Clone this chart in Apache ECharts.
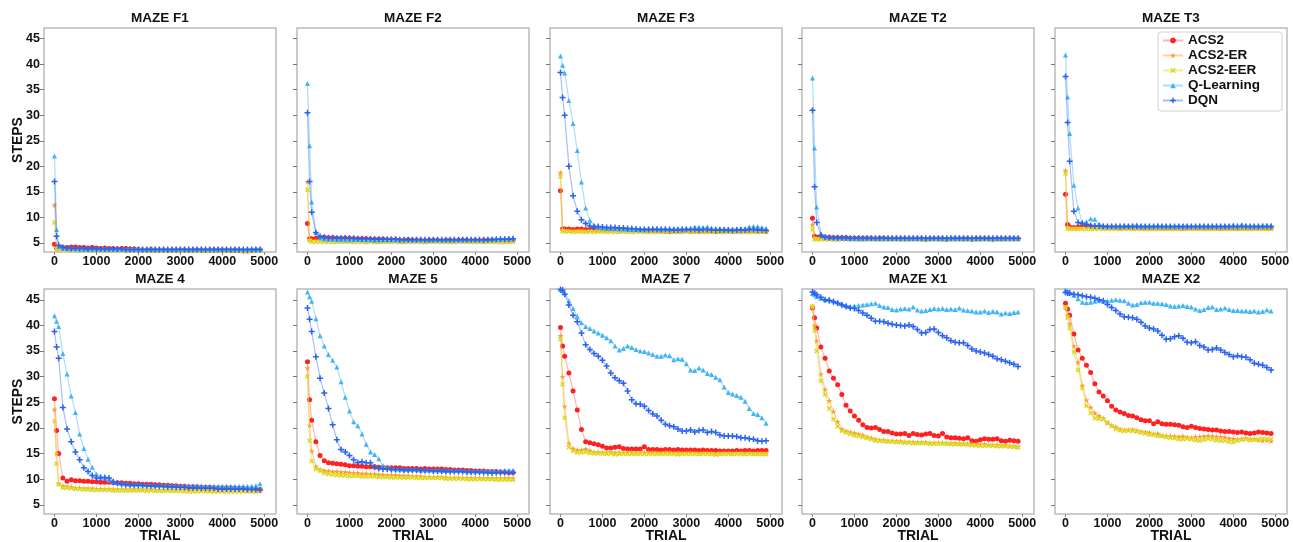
<!DOCTYPE html>
<html><head><meta charset="utf-8">
<script src="https://cdn.jsdelivr.net/npm/echarts@6/dist/echarts.min.js"></script>
<style>html,body{margin:0;padding:0;background:#fff}#c{width:1293px;height:542px}</style>
</head><body><div id="c"></div>
<script>
const TRIALS = [0,50,100,200,300,400,500,600,700,800,900,1000,1100,1200,1300,1400,1500,1600,1700,1800,1900,2000,2100,2200,2300,2400,2500,2600,2700,2800,2900,3000,3100,3200,3300,3400,3500,3600,3700,3800,3900,4000,4100,4200,4300,4400,4500,4600,4700,4800,4900];
const X_TICKS = [0,1000,2000,3000,4000,5000];
const Y_TICKS = [5,10,15,20,25,30,35,40,45];
const SERIES_NAMES = ['ACS2','ACS2-ER','ACS2-EER','Q-Learning','DQN'];
const PANEL_TITLES = ['MAZE F1','MAZE F2','MAZE F3','MAZE T2','MAZE T3','MAZE 4','MAZE 5','MAZE 7','MAZE X1','MAZE X2'];
const X_NAME = 'TRIAL';
const Y_NAME = 'STEPS';

const F1_ACS2 = [4.7,4.0, 4.0,4.1,4.1,4.2,4.2,4.1,4.1,4.0,4.1, 4.0,3.9,4.0,3.9,3.9,3.8,3.9,3.9,3.8,3.8, 3.7,3.6,3.6,3.7,3.6,3.6,3.6,3.5,3.6,3.6, 3.6,3.6,3.5,3.6,3.6,3.6,3.5,3.6,3.6,3.6, 3.6,3.6,3.5,3.6,3.5,3.4,3.4,3.5,3.6,3.6];
const F1_ER = [12.4,4.0, 3.8,3.7,3.7,3.6,3.7,3.6,3.6,3.6,3.6, 3.6,3.6,3.6,3.5,3.6,3.6,3.6,3.5,3.6,3.6, 3.5,3.6,3.5,3.5,3.6,3.5,3.5,3.6,3.5,3.5, 3.5,3.6,3.5,3.5,3.5,3.6,3.5,3.5,3.5,3.5, 3.5,3.5,3.6,3.5,3.5,3.5,3.5,3.5,3.5,3.5];
const F1_EER = [9.0,3.8, 3.6,3.6,3.6,3.6,3.5,3.6,3.5,3.6,3.5, 3.5,3.5,3.6,3.5,3.5,3.5,3.5,3.5,3.5,3.5, 3.5,3.5,3.5,3.4,3.5,3.5,3.5,3.5,3.5,3.5, 3.5,3.5,3.5,3.5,3.4,3.5,3.5,3.5,3.5,3.5, 3.5,3.5,3.5,3.5,3.5,3.4,3.5,3.5,3.5,3.5];
const F1_Q = [22.0,7.6, 4.3,4.0,3.9,3.9,3.9,3.8,3.8,3.8,3.8, 3.8,3.8,3.8,3.8,3.8,3.7,3.8,3.7,3.7,3.7, 3.7,3.7,3.7,3.7,3.7,3.7,3.7,3.7,3.7,3.7, 3.8,3.7,3.7,3.8,3.8,3.7,3.8,3.8,3.8,3.8, 3.7,3.7,3.7,3.8,3.8,3.7,3.8,3.7,3.8,3.8];
const F1_DQN = [17.0,6.3, 4.5,4.1,4.0,3.9,3.9,3.9,3.9,3.8,3.9, 3.8,3.8,3.8,3.8,3.8,3.8,3.8,3.7,3.7,3.7, 3.7,3.7,3.7,3.7,3.7,3.7,3.7,3.7,3.7,3.7, 3.7,3.7,3.7,3.7,3.7,3.7,3.7,3.7,3.7,3.7, 3.7,3.7,3.7,3.7,3.7,3.7,3.7,3.7,3.7,3.7];

const F2_ACS2 = [8.8,5.8, 5.8,5.9,6.0,6.1,6.0,6.0,5.9,5.9,5.9, 5.9,5.8,5.8,5.8,5.8,5.7,5.7,5.7,5.7,5.6, 5.6,5.6,5.5,5.5,5.6,5.5,5.5,5.5,5.4,5.5, 5.5,5.5,5.4,5.5,5.5,5.4,5.5,5.5,5.5,5.4, 5.5,5.4,5.5,5.5,5.5,5.4,5.5,5.5,5.4,5.5];
const F2_ER = [17.0,5.6, 5.4,5.4,5.4,5.3,5.3,5.3,5.3,5.3,5.3, 5.3,5.3,5.3,5.3,5.2,5.3,5.3,5.2,5.3,5.3, 5.3,5.3,5.3,5.2,5.3,5.3,5.3,5.3,5.2,5.3, 5.3,5.3,5.3,5.3,5.3,5.2,5.3,5.3,5.3,5.3, 5.3,5.3,5.2,5.3,5.3,5.3,5.3,5.2,5.3,5.3];
const F2_EER = [15.4,5.4, 5.2,5.2,5.2,5.2,5.2,5.1,5.2,5.2,5.2, 5.2,5.1,5.2,5.2,5.2,5.2,5.1,5.2,5.2,5.2, 5.2,5.2,5.1,5.2,5.2,5.2,5.2,5.1,5.2,5.2, 5.2,5.2,5.2,5.2,5.1,5.2,5.2,5.2,5.2,5.2, 5.1,5.2,5.2,5.2,5.2,5.2,5.1,5.2,5.2,5.2];
const F2_Q = [36.2,24.0, 13.0,7.0,6.0,5.8,5.7,5.7,5.6,5.7,5.6, 5.6,5.6,5.7,5.6,5.6,5.6,5.5,5.6,5.6,5.6, 5.6,5.6,5.6,5.7,5.6,5.6,5.6,5.7,5.6,5.6, 5.6,5.7,5.6,5.6,5.6,5.7,5.6,5.6,5.7,5.7, 5.7,5.7,5.6,5.7,5.8,5.7,5.8,5.8,5.9,5.9];
const F2_DQN = [30.5,17.0, 11.0,7.0,6.3,6.1,6.0,6.0,5.9,5.9,6.0, 5.9,5.9,5.8,5.8,5.8,5.8,5.7,5.7,5.7,5.7, 5.7,5.7,5.6,5.6,5.6,5.6,5.6,5.6,5.6,5.6, 5.6,5.6,5.6,5.6,5.6,5.6,5.6,5.6,5.6,5.6, 5.6,5.6,5.6,5.6,5.6,5.7,5.7,5.7,5.7,5.8];

const F3_ACS2 = [15.2,7.7, 7.7,7.7,7.6,7.7,7.7,7.6,7.6,7.6,7.5, 7.5,7.5,7.6,7.5,7.5,7.4,7.5,7.4,7.4,7.4, 7.4,7.3,7.4,7.4,7.3,7.3,7.2,7.3,7.3,7.3, 7.4,7.3,7.3,7.3,7.3,7.3,7.3,7.2,7.3,7.3, 7.3,7.3,7.3,7.3,7.3,7.3,7.3,7.3,7.3,7.3];
const F3_ER = [18.8,7.5, 7.4,7.4,7.4,7.3,7.3,7.3,7.3,7.3,7.3, 7.3,7.3,7.3,7.3,7.2,7.3,7.3,7.2,7.3,7.3, 7.2,7.3,7.3,7.2,7.3,7.2,7.3,7.3,7.2,7.3, 7.3,7.2,7.3,7.2,7.3,7.3,7.2,7.3,7.2,7.2, 7.3,7.2,7.3,7.2,7.3,7.2,7.3,7.2,7.3,7.2];
const F3_EER = [18.0,7.3, 7.2,7.2,7.1,7.2,7.2,7.1,7.2,7.1,7.2, 7.2,7.1,7.2,7.1,7.2,7.2,7.1,7.2,7.1,7.2, 7.1,7.2,7.1,7.2,7.1,7.2,7.2,7.1,7.2,7.1, 7.2,7.1,7.2,7.2,7.1,7.2,7.1,7.2,7.1,7.2, 7.1,7.2,7.1,7.2,7.2,7.1,7.2,7.1,7.2,7.1];
const F3_Q = [41.6,39.8, 38.3,32.9,28.4,23.1,16.9,11.8,9.4,8.5,8.1, 7.9,7.9,7.8,7.8,7.7,7.7,7.6,7.6,7.6,7.6, 7.7,7.8,7.8,7.8,7.7,7.8,7.7,7.8,7.8,7.7, 7.8,7.8,8.1,8.1,8.0,8.1,7.9,7.8,7.8,7.7, 7.7,7.7,7.7,7.8,7.7,8.1,8.2,8.2,8.0,7.8];
const F3_DQN = [38.4,33.5, 30.0,20.0,14.2,11.2,9.5,8.8,8.3,8.1,8.2, 8.1,8.0,8.0,8.0,7.9,7.9,7.8,7.8,7.7,7.6, 7.6,7.6,7.6,7.6,7.6,7.6,7.6,7.5,7.5,7.6, 7.6,7.6,7.6,7.5,7.6,7.6,7.5,7.5,7.5,7.5, 7.5,7.4,7.5,7.5,7.5,7.6,7.6,7.5,7.5,7.4];

const T2_ACS2 = [9.8,6.3, 6.1,6.0,6.1,6.1,6.0,6.0,6.0,6.0,5.9, 5.9,5.9,5.9,5.9,5.9,5.8,5.9,5.9,5.8,5.8, 5.8,5.8,5.8,5.8,5.8,5.8,5.8,5.7,5.8,5.8, 5.8,5.8,5.7,5.8,5.8,5.8,5.8,5.8,5.7,5.8, 5.8,5.8,5.8,5.7,5.8,5.8,5.8,5.8,5.8,5.8];
const T2_ER = [8.6,5.9, 5.8,5.8,5.8,5.8,5.8,5.7,5.8,5.8,5.8, 5.8,5.8,5.7,5.8,5.8,5.8,5.8,5.7,5.8,5.8, 5.8,5.7,5.8,5.8,5.8,5.8,5.7,5.8,5.8,5.8, 5.7,5.8,5.8,5.8,5.7,5.8,5.8,5.8,5.8,5.7, 5.8,5.8,5.7,5.8,5.8,5.8,5.8,5.7,5.8,5.8];
const T2_EER = [7.6,5.7, 5.7,5.7,5.7,5.7,5.6,5.7,5.7,5.7,5.7, 5.7,5.6,5.7,5.7,5.7,5.7,5.6,5.7,5.7,5.7, 5.7,5.7,5.6,5.7,5.7,5.7,5.7,5.6,5.7,5.7, 5.7,5.6,5.7,5.7,5.7,5.7,5.6,5.7,5.7,5.7, 5.6,5.7,5.7,5.7,5.7,5.6,5.7,5.7,5.7,5.7];
const T2_Q = [37.3,23.6, 12.0,6.8,6.3,6.1,6.0,6.0,6.0,5.9,5.9, 5.9,5.9,5.9,6.0,5.9,5.9,5.9,5.9,5.9,5.9, 5.9,5.9,6.0,5.9,5.9,5.9,5.9,5.9,5.9,6.0, 5.9,5.9,5.9,5.9,6.0,5.9,5.9,5.9,5.9,5.9, 5.9,6.0,5.9,5.9,5.9,5.9,5.9,6.0,5.9,5.9];
const T2_DQN = [31.0,16.0, 9.0,6.5,6.1,6.0,6.0,6.0,6.0,6.0,5.9, 5.9,5.9,5.9,5.9,5.9,5.9,5.9,5.9,5.9,5.9, 5.9,5.9,5.9,5.9,5.9,5.9,5.9,5.9,5.9,5.9, 5.9,5.9,5.9,5.9,5.9,5.9,5.9,5.9,5.9,5.9, 5.9,5.9,5.9,5.9,5.9,5.9,5.9,5.9,5.9,5.9];

const T3_ACS2 = [14.5,8.6, 8.1,8.0,8.1,8.3,8.4,8.2,8.1,8.1,8.0, 8.0,8.0,8.0,7.9,8.0,8.0,7.9,8.0,7.9,7.9, 7.9,7.9,7.9,7.9,7.9,7.9,7.9,7.9,7.8,7.9, 7.9,7.9,7.9,7.9,7.9,7.9,7.9,7.8,7.9,7.9, 7.9,7.8,7.9,7.9,7.9,7.9,7.9,7.9,7.9,7.9];
const T3_ER = [19.2,8.0, 7.9,7.9,7.9,7.9,7.9,7.9,7.9,7.9,7.9, 7.9,7.9,7.9,7.8,7.9,7.9,7.9,7.9,7.9,7.9, 7.9,7.8,7.9,7.9,7.9,7.9,7.9,7.8,7.9,7.9, 7.9,7.9,7.9,7.8,7.9,7.9,7.9,7.9,7.9,7.9, 7.9,7.9,7.9,7.9,7.8,7.9,7.9,7.9,7.9,7.9];
const T3_EER = [18.6,7.8, 7.7,7.7,7.7,7.7,7.7,7.7,7.7,7.7,7.7, 7.7,7.7,7.7,7.7,7.7,7.7,7.7,7.7,7.7,7.7, 7.7,7.7,7.7,7.7,7.7,7.7,7.7,7.7,7.7,7.7, 7.7,7.7,7.7,7.7,7.7,7.7,7.7,7.7,7.7,7.7, 7.7,7.7,7.7,7.7,7.7,7.7,7.7,7.7,7.7,7.7];
const T3_Q = [41.8,33.6, 26.4,16.3,11.8,9.0,9.1,9.7,9.6,8.7,8.4, 8.3,8.3,8.3,8.3,8.4,8.3,8.4,8.5,8.3,8.3, 8.3,8.3,8.4,8.3,8.3,8.3,8.3,8.3,8.3,8.3, 8.3,8.3,8.3,8.3,8.3,8.3,8.3,8.3,8.3,8.3, 8.5,8.3,8.6,8.4,8.3,8.3,8.3,8.4,8.4,8.4];
const T3_DQN = [37.6,28.6, 21.0,11.2,9.0,8.8,8.6,8.4,8.3,8.3,8.2, 8.2,8.2,8.2,8.2,8.2,8.2,8.2,8.2,8.2,8.2, 8.2,8.2,8.2,8.2,8.2,8.2,8.2,8.2,8.2,8.2, 8.2,8.2,8.2,8.2,8.2,8.2,8.2,8.2,8.2,8.2, 8.2,8.2,8.2,8.2,8.2,8.2,8.2,8.2,8.2,8.2];

const M4_ACS2 = [25.7,19.5, 15.0,10.2,9.6,9.9,9.7,9.7,9.6,9.6,9.5, 9.5,9.4,9.4,9.4,9.3,9.3,9.3,9.2,9.2,9.1, 9.1,9.0,9.0,9.0,8.9,8.9,8.8,8.8,8.7,8.7, 8.6,8.6,8.5,8.5,8.5,8.4,8.4,8.4,8.3,8.3, 8.3,8.3,8.3,8.2,8.2,8.2,8.1,8.1,8.0,8.0];
const M4_ER = [23.6,15.0, 9.1,8.7,8.6,8.5,8.3,8.3,8.2,8.2,8.2, 8.1,8.1,8.1,8.1,8.0,8.0,8.0,8.0,8.0,8.0, 8.0,8.0,7.9,8.0,7.9,7.9,7.9,7.9,7.9,7.9, 7.9,7.9,7.9,7.8,7.9,7.9,7.8,7.9,7.8,7.8, 7.8,7.8,7.8,7.8,7.8,7.8,7.8,7.8,7.8,7.8];
const M4_EER = [21.3,13.0, 9.0,8.3,8.3,8.2,8.1,8.1,8.0,8.0,7.9, 7.9,7.9,7.9,7.9,7.8,7.8,7.8,7.8,7.8,7.8, 7.8,7.8,7.7,7.8,7.7,7.7,7.7,7.8,7.7,7.7, 7.7,7.6,7.6,7.6,7.6,7.7,7.6,7.6,7.6,7.6, 7.6,7.6,7.6,7.6,7.6,7.6,7.6,7.6,7.6,7.7];
const M4_Q = [41.9,40.8, 39.8,34.5,30.5,26.2,23.0,18.8,16.0,13.9,12.3, 11.0,10.4,10.2,9.9,9.6,9.3,9.2,9.1,9.0,9.0, 9.0,8.9,8.9,8.9,8.8,8.8,8.8,8.8,8.7,8.7, 8.7,8.7,8.7,8.7,8.7,8.7,8.6,8.6,8.6,8.6, 8.6,8.6,8.6,8.6,8.6,8.6,8.6,8.6,8.7,9.1];
const M4_DQN = [38.8,35.8, 33.6,24.0,19.8,17.3,15.3,13.8,12.2,11.5,10.7, 10.2,10.3,10.3,10.2,9.5,9.2,9.0,8.9,8.9,8.8, 8.8,8.8,8.7,8.7,8.7,8.6,8.6,8.5,8.5,8.4, 8.4,8.4,8.3,8.3,8.3,8.2,8.2,8.2,8.2,8.1, 8.1,8.1,8.1,8.1,8.1,8.1,8.0,8.0,8.0,7.9];

const M5_ACS2 = [32.9,25.5, 21.5,17.3,14.6,13.6,13.2,13.1,13.0,12.9,12.8, 12.6,12.6,12.5,12.5,12.4,12.4,12.4,12.3,12.3,12.2, 12.2,12.2,12.2,12.1,12.1,12.1,12.1,12.0,12.1,12.0, 12.0,12.0,12.0,11.9,11.9,11.8,11.8,11.8,11.7,11.7, 11.6,11.6,11.6,11.5,11.5,11.5,11.4,11.4,11.3,11.3];
const M5_ER = [31.7,20.5, 15.5,12.5,11.9,11.7,11.6,11.5,11.5,11.4,11.4, 11.3,11.2,11.2,11.1,11.1,11.0,11.0,10.9,10.9,10.8, 10.8,10.8,10.7,10.7,10.7,10.6,10.6,10.6,10.5,10.5, 10.4,10.4,10.4,10.4,10.3,10.3,10.3,10.3,10.3,10.3, 10.3,10.3,10.2,10.2,10.2,10.2,10.2,10.2,10.2,10.2];
const M5_EER = [30.1,17.5, 13.5,12.0,11.6,11.2,11.0,10.9,10.8,10.7,10.7, 10.6,10.6,10.6,10.5,10.5,10.5,10.5,10.4,10.4,10.4, 10.3,10.3,10.3,10.3,10.3,10.3,10.2,10.2,10.2,10.2, 10.2,10.2,10.2,10.1,10.1,10.1,10.1,10.1,10.0,10.0, 10.0,10.0,10.0,10.0,10.0,9.9,9.9,9.9,9.9,9.9];
const M5_Q = [46.5,45.6, 44.7,41.3,38.0,36.0,34.3,33.2,31.9,29.0,26.0, 23.3,21.2,20.4,18.8,16.8,15.3,14.8,14.0,12.6,12.3, 12.1,12.0,12.0,11.9,11.9,11.9,11.9,11.8,11.8,11.8, 11.8,11.8,11.7,11.7,11.7,11.7,11.7,11.7,11.6,11.6, 11.6,11.6,11.6,11.6,11.6,11.6,11.6,11.7,11.7,11.7];
const M5_DQN = [43.4,41.2, 38.8,33.9,29.7,26.8,23.8,20.6,17.7,15.8,15.3, 14.6,13.8,13.2,13.4,13.2,13.2,12.3,12.1,12.0,12.0, 11.9,11.9,11.9,11.8,11.8,11.8,11.8,11.7,11.7,11.7, 11.6,11.6,11.6,11.5,11.5,11.5,11.5,11.5,11.4,11.4, 11.4,11.4,11.3,11.3,11.2,11.3,11.3,11.3,11.3,11.3];

const M7_ACS2 = [39.6,36.0, 34.0,30.7,27.2,23.5,19.7,17.3,17.1,16.9,16.7, 16.4,16.1,16.1,16.2,16.3,16.0,15.9,15.9,15.9,15.9, 16.3,15.8,15.8,15.8,15.7,15.8,15.8,15.7,15.8,15.7, 15.7,15.7,15.7,15.6,15.7,15.6,15.6,15.6,15.5,15.5, 15.5,15.5,15.6,15.5,15.6,15.6,15.5,15.6,15.6,15.6];
const M7_ER = [38.0,30.0, 24.2,17.0,16.0,15.7,15.7,15.9,15.6,15.3,15.3, 15.2,15.2,15.3,15.2,15.2,15.2,15.2,15.2,15.1,15.2, 15.2,15.1,15.2,15.1,15.1,15.2,15.1,15.1,15.1,15.1, 15.1,15.1,15.1,15.0,15.1,15.1,15.0,14.9,15.0,15.1, 15.1,15.0,15.1,15.1,15.0,15.1,15.0,15.0,15.0,15.0];
const M7_EER = [37.3,28.5, 22.0,16.2,15.5,15.2,15.2,15.3,15.1,15.0,15.0, 15.0,14.9,15.0,14.8,14.9,14.9,14.9,14.9,14.9,14.9, 14.9,14.9,14.9,14.9,14.9,14.9,14.9,14.9,14.8,14.9, 14.9,14.9,14.9,14.9,14.9,14.9,14.9,14.8,14.9,14.9, 14.9,14.9,14.9,14.9,14.9,14.9,14.9,14.9,14.9,14.9];
const M7_Q = [47.0,46.8, 46.3,44.8,43.3,41.8,40.5,39.8,39.4,38.9,38.5, 38.1,37.6,37.0,36.0,35.2,35.5,36.0,35.7,35.3,35.0, 34.9,34.6,34.3,34.0,34.0,34.2,34.1,33.3,33.5,33.4, 32.5,31.3,31.2,31.7,31.3,30.6,30.4,29.9,29.4,28.0, 26.9,26.6,26.3,26.0,25.2,23.8,22.8,22.6,22.0,20.9];
const M7_DQN = [47.0,46.9, 46.1,44.0,42.0,40.7,38.5,36.2,35.3,34.5,34.0, 33.2,32.1,30.7,29.8,29.2,28.7,27.2,25.5,24.7,24.6, 24.2,23.4,22.7,22.3,21.5,20.7,20.4,20.2,19.8,19.4, 19.4,19.6,19.2,19.5,19.6,19.1,19.3,19.1,18.6,18.4, 18.4,18.4,18.3,18.1,18.1,17.9,17.8,17.5,17.4,17.5];

const X1_ACS2 = [43.4,41.5, 39.5,35.8,33.6,31.1,29.7,28.4,26.5,24.4,23.3, 22.3,21.5,20.6,20.1,20.0,20.1,19.7,19.3,19.3,19.0, 18.8,18.8,18.9,18.5,18.9,18.7,18.6,18.8,18.9,18.5, 18.4,18.9,18.2,18.1,18.1,18.0,17.9,18.1,17.5,17.4, 17.7,17.9,17.8,17.8,17.9,17.5,17.4,17.6,17.5,17.4];
const X1_ER = [43.7,40.0, 37.0,30.5,27.5,25.3,23.2,21.2,19.8,19.4,19.2, 19.0,18.8,18.6,18.3,18.1,17.8,17.6,17.6,17.5,17.5, 17.4,17.4,17.3,17.3,17.3,17.2,17.2,17.2,17.1,17.1, 17.1,17.1,17.0,17.0,17.0,16.9,16.9,16.9,16.9,16.8, 16.8,16.8,16.7,16.7,16.7,16.6,16.6,16.5,16.4,16.3];
const X1_EER = [43.7,39.0, 35.0,29.2,26.5,23.8,21.7,20.3,19.4,19.1,18.8, 18.5,18.4,18.2,18.0,17.8,17.5,17.5,17.4,17.3,17.3, 17.2,17.2,17.1,17.1,17.0,17.0,17.0,17.0,16.9,16.9, 16.9,16.9,16.9,16.8,16.8,16.8,16.8,16.7,16.6,16.6, 16.5,16.5,16.5,16.5,16.4,16.4,16.4,16.3,16.3,16.2];
const X1_Q = [46.2,46.0, 45.6,45.3,45.0,45.2,44.8,44.5,44.2,43.9,43.7, 43.8,43.9,44.0,44.1,44.2,44.3,43.9,43.6,43.5,43.1, 43.0,43.2,43.3,43.2,43.6,43.0,42.8,42.9,43.1,43.3, 43.2,43.3,43.1,43.2,43.1,43.4,43.0,42.9,42.8,42.6, 42.6,42.8,42.5,42.7,42.6,42.2,42.4,42.3,42.5,42.6];
const X1_DQN = [46.5,46.3, 46.0,45.5,45.0,44.8,44.6,44.3,44.0,43.7,43.4, 43.3,42.9,42.4,42.0,41.4,40.8,40.8,40.7,40.4,40.2, 40.1,40.0,39.9,40.1,39.8,39.2,38.5,38.6,39.2,39.3, 38.6,38.0,37.6,37.0,36.7,36.6,36.6,36.1,35.4,35.0, 34.8,34.6,34.3,34.0,33.5,33.3,33.0,32.7,32.4,32.0];

const X2_ACS2 = [44.3,43.2, 42.0,38.3,35.2,33.6,32.2,30.8,28.6,27.0,26.2, 25.3,24.2,23.5,23.1,22.8,22.4,22.3,22.0,21.6,21.4, 21.4,20.8,21.2,20.8,20.7,20.7,20.6,20.5,20.2,20.1, 20.3,20.1,19.9,19.8,19.7,19.6,19.6,19.4,19.3,19.3, 19.2,19.1,19.2,19.0,18.9,19.0,19.2,19.1,19.0,18.9];
const X2_ER = [43.5,42.0, 40.3,36.0,32.8,28.3,25.4,24.0,22.9,22.4,21.9, 21.0,20.5,20.2,19.8,19.6,19.6,19.7,19.5,19.3,19.2, 19.1,18.8,18.9,18.5,18.5,18.4,18.4,18.3,18.4,18.2, 18.1,18.3,18.3,18.4,18.5,18.4,18.3,18.3,18.2,18.0, 17.9,17.8,17.9,18.0,17.8,17.8,17.6,17.5,17.6,17.4];
const X2_EER = [43.5,41.5, 39.5,34.8,31.3,27.8,24.3,22.9,21.9,21.8,21.7, 21.0,20.3,19.8,19.5,19.4,19.5,19.4,19.3,19.1,18.9, 18.7,18.6,18.4,18.4,18.2,18.1,18.0,17.8,17.8,17.9, 17.8,17.6,17.5,17.7,17.9,17.8,17.6,17.5,17.5,17.3, 17.2,17.5,17.7,17.8,17.6,17.7,17.8,17.9,17.8,17.8];
const X2_Q = [46.9,46.6, 46.3,45.9,45.2,44.5,44.4,44.5,44.7,44.9,44.7, 44.8,44.9,45.0,44.9,44.8,44.3,44.0,44.1,44.4,44.5, 44.5,44.3,44.3,44.2,44.1,43.8,43.7,43.8,43.9,43.7, 43.6,43.2,42.9,43.1,43.5,43.6,43.1,43.2,43.4,43.1, 42.9,42.9,42.8,42.8,42.7,42.8,42.6,42.7,43.0,42.8];
const X2_DQN = [46.4,46.3, 46.3,46.1,46.0,45.8,45.6,45.5,45.3,45.0,44.8, 44.1,43.5,42.9,42.2,41.7,41.6,41.5,41.2,40.6,39.9, 39.5,39.3,38.9,38.1,37.3,37.4,37.8,38.0,37.5,36.7, 36.6,36.8,36.1,35.8,35.2,35.3,35.6,35.2,34.7,34.3, 33.9,34.1,33.9,33.8,33.3,32.6,32.4,32.2,31.8,31.3];

const PANEL_DATA = [
  [F1_ACS2,F1_ER,F1_EER,F1_Q,F1_DQN],
  [F2_ACS2,F2_ER,F2_EER,F2_Q,F2_DQN],
  [F3_ACS2,F3_ER,F3_EER,F3_Q,F3_DQN],
  [T2_ACS2,T2_ER,T2_EER,T2_Q,T2_DQN],
  [T3_ACS2,T3_ER,T3_EER,T3_Q,T3_DQN],
  [M4_ACS2,M4_ER,M4_EER,M4_Q,M4_DQN],
  [M5_ACS2,M5_ER,M5_EER,M5_Q,M5_DQN],
  [M7_ACS2,M7_ER,M7_EER,M7_Q,M7_DQN],
  [X1_ACS2,X1_ER,X1_EER,X1_Q,X1_DQN],
  [X2_ACS2,X2_ER,X2_EER,X2_Q,X2_DQN]
];

// ---- styling / layout ----
const FONT = '"Liberation Sans", Arial, sans-serif';
const COL_LEFT = [44, 297, 550, 802, 1055];
const ROW_TOP = [28, 289];
const ROW_H = [224, 225];
const W = 232;
const MARK_COLORS = ['#ff2020', '#ff9a30', '#dcd81c', '#42b4f5', '#2b63f0'];
const LINE_COLORS = ['rgba(255,90,90,0.45)', 'rgba(255,160,70,0.5)', 'rgba(225,220,40,0.5)', 'rgba(90,190,250,0.5)', 'rgba(60,110,240,0.45)'];
const SYMBOLS = [
  'circle',
  'path://M50,0L61,35H98L68,57L79,91L50,70L21,91L32,57L2,35H39Z',
  'path://M0,2L2,0L5,3L8,0L10,2L7,5L10,8L8,10L5,7L2,10L0,8L3,5Z',
  'triangle',
  'path://M3,0H5V3H8V5H5V8H3V5H0V3H3Z'
];
const SYM_SIZE = [5, 6, 5, 5, 6];

const grids = [], xAxes = [], yAxes = [], series = [], graphics = [];
PANEL_DATA.forEach((panel, p) => {
  const row = Math.floor(p / 5), col = p % 5;
  const left = COL_LEFT[col], top = ROW_TOP[row], h = ROW_H[row];
  grids.push({left: left, top: top, width: W, height: h, show: true, borderColor: '#bcbcbc', borderWidth: 1.5, backgroundColor: '#fff'});
  xAxes.push({
    type: 'value', gridIndex: p, min: -250, max: 5280,
    axisLine: {show: false, onZero: false}, splitLine: {show: false},
    axisTick: {show: true, customValues: X_TICKS, length: 3, lineStyle: {color: '#888'}},
    axisLabel: {show: true, customValues: X_TICKS, formatter: v => String(v), margin: 3, fontSize: 12.5, fontWeight: 'bold', color: '#111', fontFamily: FONT}
  });
  yAxes.push({
    type: 'value', gridIndex: p, min: 3.2, max: 47.1,
    axisLine: {show: false, onZero: false}, splitLine: {show: false},
    axisTick: {show: true, customValues: Y_TICKS, length: 4, lineStyle: {color: '#777'}},
    axisLabel: {show: col === 0, customValues: Y_TICKS, formatter: v => String(v), margin: 4, fontSize: 12.5, fontWeight: 'bold', color: '#111', fontFamily: FONT}
  });
  graphics.push({
    type: 'text', x: left + W / 2, y: top - 9.5,
    style: {text: PANEL_TITLES[p], textAlign: 'center', textVerticalAlign: 'middle', font: 'bold 13.5px ' + FONT, fill: '#111'}
  });
  if (row === 1) {
    graphics.push({
      type: 'text', x: left + W / 2, y: top + h + 22,
      style: {text: X_NAME, textAlign: 'center', textVerticalAlign: 'middle', font: 'bold 14px ' + FONT, fill: '#111'}
    });
  }
  if (col === 0) {
    graphics.push({
      type: 'text', x: 18, y: top + h / 2, rotation: Math.PI / 2,
      style: {text: Y_NAME, textAlign: 'center', textVerticalAlign: 'middle', font: 'bold 14px ' + FONT, fill: '#111'}
    });
  }
  panel.forEach((vals, s) => {
    series.push({
      type: 'line', name: SERIES_NAMES[s], xAxisIndex: p, yAxisIndex: p,
      data: TRIALS.map((t, i) => [t, vals[i]]),
      symbol: SYMBOLS[s], symbolSize: SYM_SIZE[s], showSymbol: true,
      itemStyle: {color: MARK_COLORS[s]},
      lineStyle: {color: LINE_COLORS[s], width: 1.2},
      clip: true, z: 2 + s
    });
  });
});

const chart = echarts.init(document.getElementById('c'), null, {renderer: 'canvas'});
chart.setOption({
  animation: false,
  backgroundColor: '#fff',
  grid: grids, xAxis: xAxes, yAxis: yAxes, series: series,
  graphic: graphics,
  legend: {
    data: SERIES_NAMES, orient: 'vertical', left: 1158, top: 32,
    itemWidth: 20, itemHeight: 7, itemGap: 0,
    padding: [1, 22, 3, 4], borderColor: '#d0d0d0', borderWidth: 1, borderRadius: 3,
    backgroundColor: '#fff', z: 10,
    textStyle: {fontSize: 13.5, lineHeight: 15, fontWeight: 'bold', color: '#111', fontFamily: FONT}
  }
});
</script></body></html>
